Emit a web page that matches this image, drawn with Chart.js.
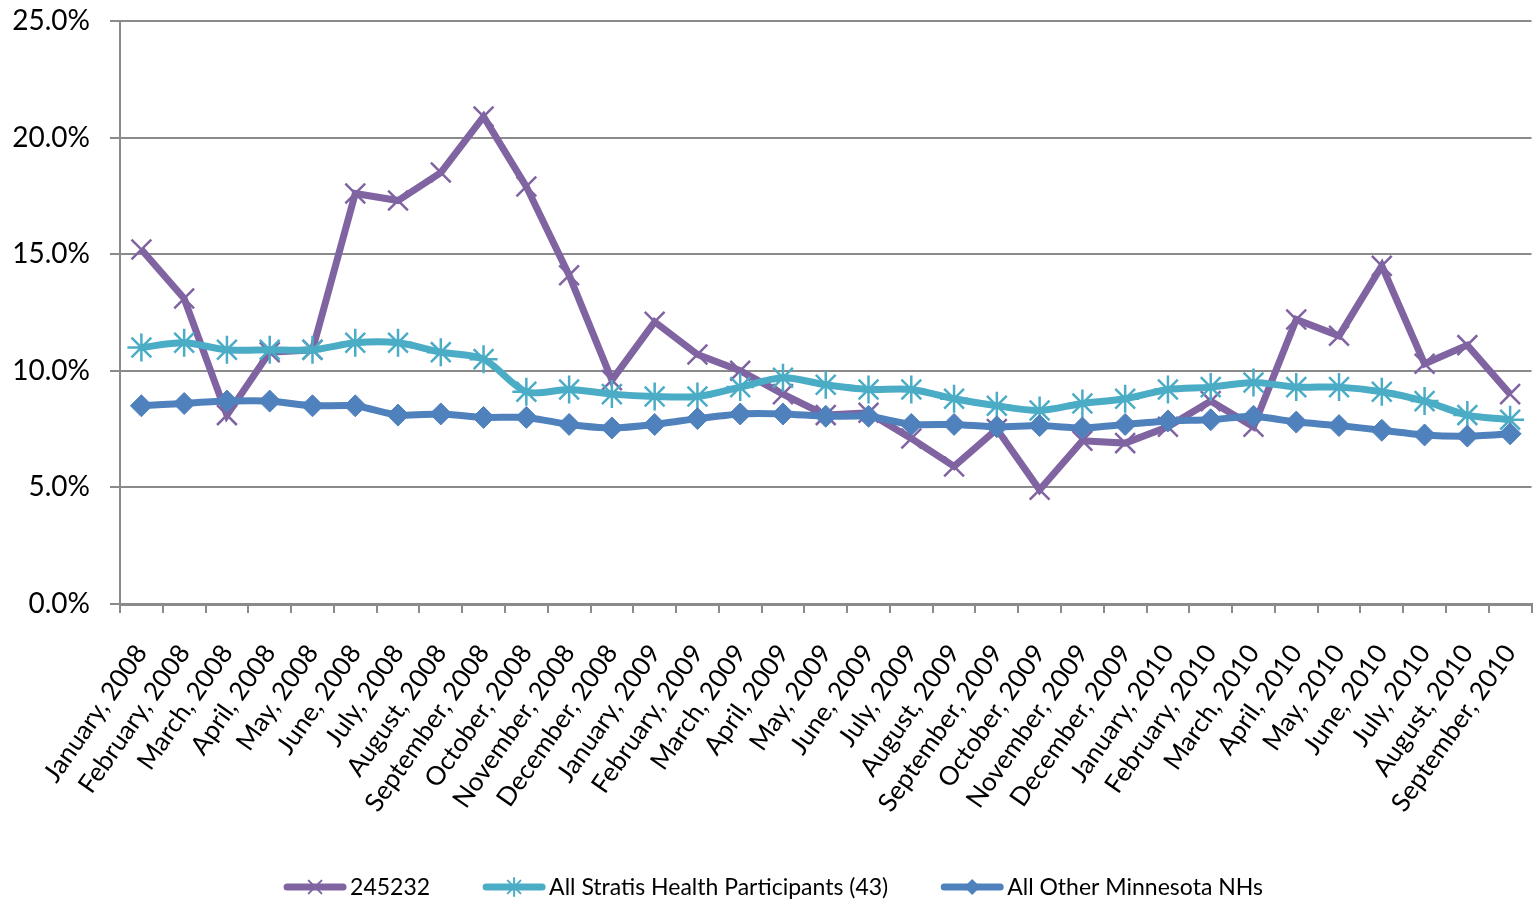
<!DOCTYPE html>
<html><head><meta charset="utf-8">
<script src="https://cdn.jsdelivr.net/npm/chart.js@4/dist/chart.umd.min.js"></script>
<style>html,body{margin:0;padding:0;background:#fff;overflow:hidden;} #wrap{width:1535px;height:903px;position:relative;overflow:hidden;} canvas{display:block;}</style>
</head><body><div id="wrap"><canvas id="c" width="1548" height="903"></canvas></div>
<script>
const categories = ["January, 2008","February, 2008","March, 2008","April, 2008","May, 2008","June, 2008","July, 2008","August, 2008","September, 2008","October, 2008","November, 2008","December, 2008",
"January, 2009","February, 2009","March, 2009","April, 2009","May, 2009","June, 2009","July, 2009","August, 2009","September, 2009","October, 2009","November, 2009","December, 2009",
"January, 2010","February, 2010","March, 2010","April, 2010","May, 2010","June, 2010","July, 2010","August, 2010","September, 2010"];
const series245232 = [15.2,13.1,8.1,10.8,10.9,17.6,17.3,18.5,20.9,17.9,14.1,9.6,12.1,10.7,10.0,9.0,8.1,8.2,7.1,5.9,7.5,4.9,7.0,6.9,7.6,8.7,7.6,12.2,11.5,14.5,10.3,11.1,9.0];
const seriesStratis = [11.0,11.2,10.9,10.9,10.9,11.2,11.2,10.8,10.5,9.1,9.2,9.0,8.9,8.9,9.3,9.7,9.4,9.2,9.2,8.8,8.5,8.3,8.6,8.8,9.2,9.3,9.5,9.3,9.3,9.1,8.7,8.1,7.9];
const seriesOtherMN = [8.5,8.6,8.7,8.7,8.5,8.5,8.1,8.15,8.0,8.0,7.7,7.55,7.7,7.95,8.15,8.15,8.05,8.05,7.7,7.7,7.6,7.65,7.55,7.7,7.85,7.9,8.05,7.8,7.65,7.45,7.25,7.2,7.3];
const seriesNames = ["245232","All Stratis Health Participants (43)","All Other Minnesota NHs"];
const yTicks = [0,5,10,15,20,25];

const FONT = "Lato, 'Open Sans', sans-serif";
const purple = "#8064A2", cyan = "#4BACC6", blue = "#4F81BD";

function drawMarker(ctx, style, x, y, r, color) {
  ctx.save();
  ctx.strokeStyle = color; ctx.fillStyle = color; ctx.lineWidth = 2;
  ctx.beginPath();
  if (style === 'crossRot' || style === 'star') {
    const d = r * Math.SQRT1_2;
    ctx.moveTo(x-d,y-d); ctx.lineTo(x+d,y+d);
    ctx.moveTo(x+d,y-d); ctx.lineTo(x-d,y+d);
    if (style === 'star') { ctx.moveTo(x,y-r); ctx.lineTo(x,y+r); }
    ctx.stroke();
  } else {
    ctx.moveTo(x,y-r); ctx.lineTo(x+r,y); ctx.lineTo(x,y+r); ctx.lineTo(x-r,y); ctx.closePath();
    ctx.fill();
  }
  ctx.restore();
}

const legendPlugin = {
  id: 'customLegend',
  afterDraw(chart) {
    const ctx = chart.ctx;
    ctx.save();
    ctx.font = "23px " + FONT;
    ctx.textBaseline = 'middle';
    const lineLen = 64, gap = 3, itemGap = 52;
    const items = chart.data.datasets.map(ds => ({ds, w: lineLen + gap + ctx.measureText(ds.label).width}));
    const total = items.reduce((a,b)=>a+b.w,0) + itemGap*(items.length-1);
    let x = 773 - total/2;
    const y = 887;
    items.forEach(it => {
      ctx.strokeStyle = it.ds.borderColor; ctx.lineWidth = 7; ctx.lineCap = 'round';
      ctx.beginPath(); ctx.moveTo(x+4,y); ctx.lineTo(x+lineLen-4,y); ctx.stroke();
      drawMarker(ctx, it.ds.pointStyle, x+lineLen/2, y, it.ds.pointStyle==='rectRot'?8:9, it.ds.borderColor);
      ctx.fillStyle = '#000';
      ctx.fillText(it.ds.label, x+lineLen+gap, y+1);
      x += it.w + itemGap;
    });
    ctx.restore();
  }
};

new Chart(document.getElementById('c'), {
  type: 'line',
  data: {
    labels: categories,
    datasets: [
      {label: seriesNames[0], data: series245232, borderColor: purple, backgroundColor: purple, borderWidth: 7,
       pointStyle: 'crossRot', pointRadius: 14, pointBorderWidth: 2.5, pointBorderColor: purple, tension: 0, order: 3},
      {label: seriesNames[1], data: seriesStratis, borderColor: cyan, backgroundColor: cyan, borderWidth: 7,
       pointStyle: 'star', pointRadius: 14, pointBorderWidth: 2.5, pointBorderColor: cyan, tension: 0.3, order: 2},
      {label: seriesNames[2], data: seriesOtherMN, borderColor: blue, backgroundColor: blue, borderWidth: 7,
       pointStyle: 'rectRot', pointRadius: 11, pointBorderWidth: 1, pointBorderColor: blue, pointBackgroundColor: blue, tension: 0.2, order: 1}
    ]
  },
  options: {
    responsive: false, animation: false,
    layout: {padding: {top: 21, right: 0, bottom: 0, left: 0}},
    plugins: {legend: {display: false}, tooltip: {enabled: false}},
    scales: {
      x: {
        offset: true,
        grid: {drawOnChartArea: false, drawTicks: true, tickLength: 9, offset: true, color: '#8a8a8a', lineWidth: 2},
        border: {display: true, color: '#8a8a8a', width: 3},
        ticks: {autoSkip: false, maxRotation: 55, minRotation: 55, color: '#000', font: {family: FONT, size: 26}, padding: 26},
        afterFit(s) { s.height = 903 - 604; s.paddingRight = 0; s.paddingLeft = 0; s.paddingTop = 0; s.paddingBottom = 0; }
      },
      y: {
        min: 0, max: 25,
        afterBuildTicks(s) { s.ticks = yTicks.map(v => ({value: v})); },
        grid: {color: '#8a8a8a', lineWidth: 2, tickLength: 10},
        border: {display: true, color: '#8a8a8a', width: 2},
        ticks: {color: '#000', font: {family: FONT, size: 28}, padding: 20, callback: v => v.toFixed(1) + '%'},
        afterFit(s) { s.width = 120; s.paddingTop = 0; s.paddingBottom = 0; s.paddingLeft = 0; s.paddingRight = 0; }
      }
    }
  },
  plugins: [legendPlugin]
});
</script></body></html>
